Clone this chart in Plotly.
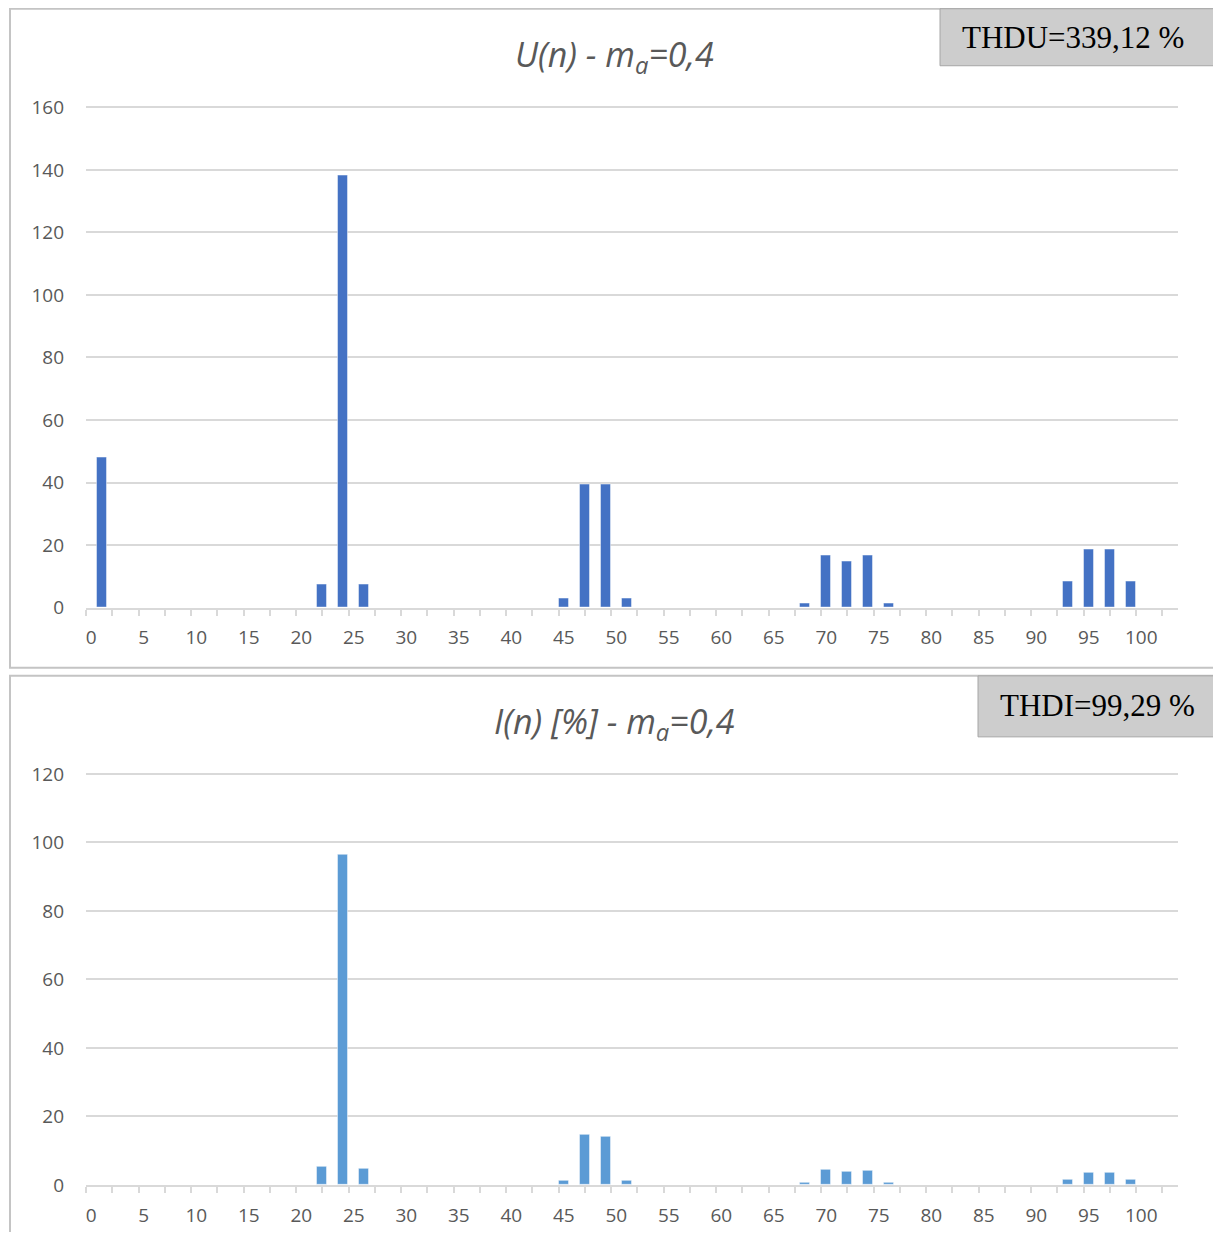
import plotly.graph_objects as go

# ---- data ----
harm_u = [1, 22, 24, 26, 45, 47, 49, 51, 68, 70, 72, 74, 76, 93, 95, 97, 99]
u_vals = [48.0, 7.3, 138.2, 7.3, 2.9, 39.2, 39.2, 2.9, 1.3, 16.7, 14.7, 16.7, 1.3, 8.3, 18.7, 18.7, 8.3]

harm_i = [22, 24, 26, 45, 47, 49, 51, 68, 70, 72, 74, 76, 93, 95, 97, 99]
i_vals = [5.3, 96.4, 4.6, 1.1, 14.5, 14.0, 1.1, 0.5, 4.3, 3.7, 4.0, 0.5, 1.6, 3.5, 3.4, 1.5]

n_categories = 104          # harmonic order 0 .. 103 on the category axis
x_labels = list(range(0, 101, 5))
u_yticks = list(range(0, 161, 20))
i_yticks = list(range(0, 121, 20))

title_u = "U(n) - m<sub>a</sub>=0,4"
title_i = "I(n) [%] - m<sub>a</sub>=0,4"
thdu_text = "THDU=339,12 %"
thdi_text = "THDI=99,29 %"

# ---- figure geometry (page has an 8px body margin) ----
OFF = 8
W, H = 1221 - 2 * OFF, 1240 - 2 * OFF
# measured vertical mapping of page -> picture: pic = 0.9802 * page + 11.43
VS, VO = 0.9802, 11.43

def px(x):
    return (x - OFF) / W

def py(y):
    page = (y - VO) / VS
    return 1 - (page - OFF) / H

fig = go.Figure()
fig.add_trace(go.Bar(x=harm_u, y=u_vals, width=0.95, marker=dict(color="#4472C4",
                     line=dict(color="rgba(255,255,255,0.45)", width=1)),
                     xaxis="x", yaxis="y", showlegend=False, hoverinfo="x+y"))
fig.add_trace(go.Bar(x=harm_i, y=i_vals, width=0.95, marker=dict(color="#5B9BD5",
                     line=dict(color="rgba(255,255,255,0.45)", width=1)),
                     xaxis="x2", yaxis="y2", showlegend=False, hoverinfo="x+y"))

grid = "#d9d9d9"
tickfont = dict(family="Open Sans, Noto Sans, sans-serif", size=19, color="#595959")
minor_ticks = [-0.5 + 2.5 * k for k in range(int((n_categories) / 2.5) + 1)]

def xaxis_cfg(anchor):
    return dict(
        domain=[px(86), px(1178)], range=[-0.5, n_categories - 0.5], anchor=anchor,
        tickmode="array", tickvals=x_labels, ticktext=[str(v) for v in x_labels],
        ticks="outside", ticklen=12, tickcolor="rgba(0,0,0,0)",
        showline=True, linecolor=grid, linewidth=2, showgrid=False, zeroline=False,
        tickfont=tickfont,
        minor=dict(tickmode="array", tickvals=minor_ticks, ticks="outside", ticklen=6,
                   tickwidth=2, tickcolor=grid, showgrid=False),
    )

def yaxis_cfg(anchor, y0px, ppu, top, ticks):
    extra = 0.6  # a little headroom so the top gridline is drawn
    return dict(
        domain=[py(y0px), py(y0px - (top + extra) * ppu)], range=[0, top + extra], anchor=anchor,
        tickmode="array", tickvals=ticks, ticktext=[str(v) for v in ticks],
        showgrid=True, gridcolor=grid, gridwidth=1.5, zeroline=False,
        showline=False, ticks="", tickfont=tickfont, ticklabelstandoff=21,
    )

fig.update_layout(
    width=W, height=H, margin=dict(l=0, r=0, t=0, b=0),
    paper_bgcolor="white", plot_bgcolor="white", bargap=0,
    xaxis=xaxis_cfg("y"),
    yaxis=yaxis_cfg("x", 607.7, 500 / 160, 160, u_yticks),
    xaxis2=xaxis_cfg("y2"),
    yaxis2=yaxis_cfg("x2", 1185, 411 / 120, 120, i_yticks),
)

border = "#c4c4c4"
shapes = [
    dict(type="rect", xref="paper", yref="paper", x0=px(10), x1=px(1219), y0=py(668), y1=py(9),
         line=dict(color=border, width=2), fillcolor="rgba(0,0,0,0)", layer="below"),
    dict(type="rect", xref="paper", yref="paper", x0=px(10), x1=px(1219), y0=py(1290), y1=py(676),
         line=dict(color=border, width=2), fillcolor="rgba(0,0,0,0)", layer="below"),
    dict(type="rect", xref="paper", yref="paper", x0=px(940), x1=px(1219), y0=py(66), y1=py(9),
         line=dict(color="#a6a6a6", width=1), fillcolor="#cdcdcd"),
    dict(type="rect", xref="paper", yref="paper", x0=px(978), x1=px(1219), y0=py(737), y1=py(676),
         line=dict(color="#a6a6a6", width=1), fillcolor="#cdcdcd"),
]
fig.update_layout(shapes=shapes)

title_font = dict(family="Open Sans, Noto Sans, sans-serif", size=34, color="#595959")
thd_font = dict(family="Liberation Serif, Times New Roman, serif", size=31, color="black")
fig.update_layout(annotations=[
    dict(text="<i>" + title_u + "</i>", xref="paper", yref="paper", x=px(614.5), y=py(56),
         xanchor="center", yanchor="middle", showarrow=False, font=title_font),
    dict(text="<i>" + title_i + "</i>", xref="paper", yref="paper", x=px(614.5), y=py(723),
         xanchor="center", yanchor="middle", showarrow=False, font=title_font),
    dict(text=thdu_text, xref="paper", yref="paper", x=px(1073), y=py(38),
         xanchor="center", yanchor="middle", showarrow=False, font=thd_font),
    dict(text=thdi_text, xref="paper", yref="paper", x=px(1097), y=py(706),
         xanchor="center", yanchor="middle", showarrow=False, font=thd_font),
])

fig.write_html("out.html")
